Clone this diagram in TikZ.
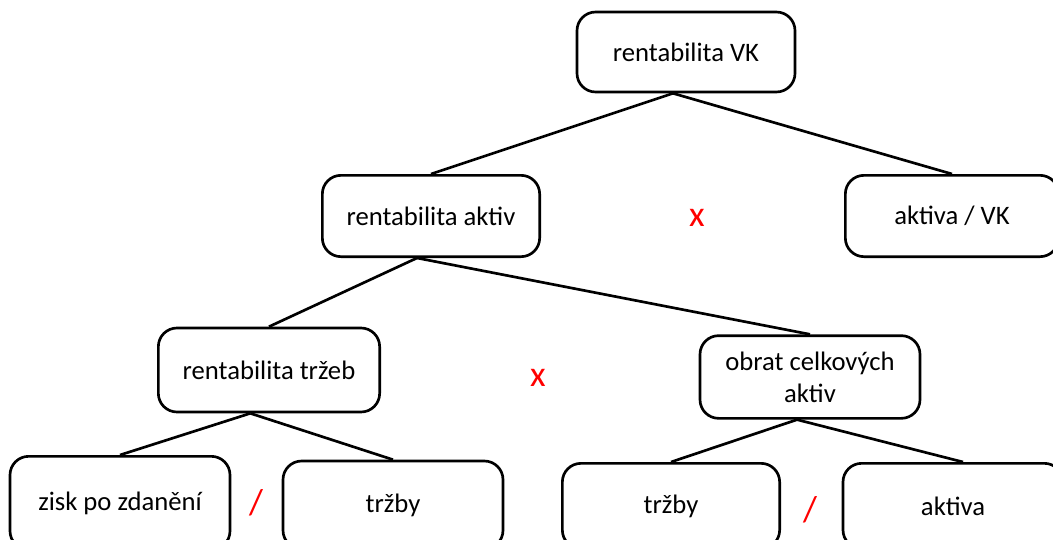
\documentclass[tikz,border=0pt]{standalone}
\usepackage{fontspec}
\setmainfont{Carlito}
\tikzset{every picture/.style={line width=0.75pt}}
\tikzset{
  box/.style={draw, line width=2pt, rounded corners=14pt, align=center, font=\fontsize{20}{24}\selectfont, inner sep=0.75pt},
  link/.style={line width=2pt},
  op/.style={text=red, font=\fontsize{27}{29}\selectfont, inner sep=0.75pt}
}

\begin{document}
\begin{tikzpicture}[x=0.75pt,y=0.75pt,yscale=-1,xscale=1]
    \clip (0,0) rectangle (1053,539);
    \fill[white] (0,0) rectangle (1053,539);
    % Level 1
    \node [box, minimum width=163.5pt, minimum height=60pt] (vk) at (686,52) {rentabilita VK};
    % Level 2
    \node [box, minimum width=163pt, minimum height=61pt] (aktiv) at (431,216) {rentabilita aktiv};
    \node [box, minimum width=160pt, minimum height=61pt] (akvk) at (952,216) {aktiva / VK};
    % Level 3
    \node [box, minimum width=166pt, minimum height=63pt] (trzeb) at (269,370) {rentabilita tržeb};
    \node [box, minimum width=165pt, minimum height=62pt] (obrat) at (810,377) {obrat celkových\\aktiv};
    % Level 4
    \node [box, minimum width=165pt, minimum height=70pt] (zisk) at (120,503) {zisk po zdanění};
    \node [box, minimum width=165pt, minimum height=66pt] (trzbyA) at (393,505) {tržby};
    \node [box, minimum width=163pt, minimum height=64pt] (trzbyB) at (671,506) {tržby};
    \node [box, minimum width=165pt, minimum height=64pt] (aktiva) at (953,506) {aktiva};
    % Operators
    \node [op] (opA) at (697,218) {x};
    \node [op] (opB) at (538,378) {x};
    \node [op] (opC) at (256,503) {/};
    \node [op] (opD) at (810,510) {/};
    % Branch points
    \coordinate (vk-s) at ([xshift=-9.75pt]vk.south);
    \coordinate (aktiv-s) at ([xshift=-10.5pt]aktiv.south);
    \coordinate (trzeb-s) at ([xshift=-14pt]trzeb.south);
    \coordinate (obrat-s) at ([xshift=-9.75pt]obrat.south);
    % Connectors
    \draw [link] (vk-s) -- (aktiv.north);
    \draw [link] (vk-s) -- (akvk.north);
    \draw [link] (aktiv-s) -- (trzeb.north);
    \draw [link] (aktiv-s) -- (obrat.north);
    \draw [link] (trzeb-s) -- (zisk.north);
    \draw [link] (trzeb-s) -- (trzbyA.north);
    \draw [link] (obrat-s) -- (trzbyB.north);
    \draw [link] (obrat-s) -- ([xshift=7.5pt]aktiva.north);
\end{tikzpicture}
\end{document}
